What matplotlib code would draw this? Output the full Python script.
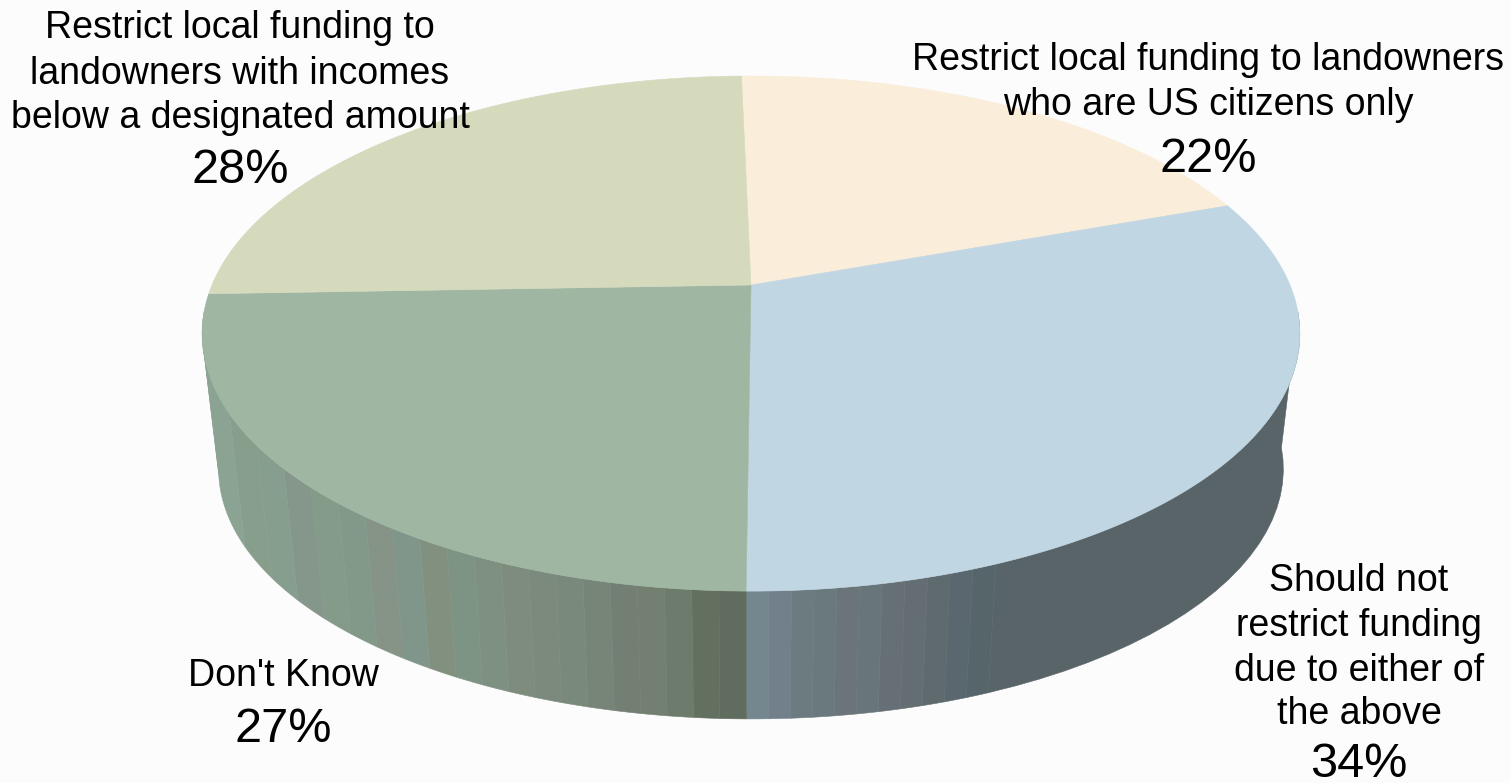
import numpy as np
import matplotlib
matplotlib.use("Agg")
import matplotlib.pyplot as plt
from matplotlib.patches import Polygon

# ---- data ----
categories = [
    ["Restrict local funding to landowners", "who are US citizens only"],
    ["Should not", "restrict funding", "due to either of", "the above"],
    ["Don't Know"],
    ["Restrict local funding to", "landowners with incomes", "below a designated amount"],
]
values = [22, 34, 27, 28]
pct_labels = ["22%", "34%", "27%", "28%"]

# ---- styles ----
top_colors = ["#faeeda", "#c1d6e3", "#9fb6a3", "#d5dabd"]
blue_side_dark = "#596469"
blue_bands = ["#566569", "#5a676e", "#5f6a6f", "#636d72", "#666f75", "#68767b",
              "#6b7478", "#6a797d", "#6c7b80", "#72808c", "#74868e"]
green_bands = ["#606c5e", "#64705f", "#6d7b6c", "#727f71", "#747f74", "#778579",
               "#798a7a", "#7b8a7d", "#7d8c7d", "#7e9081", "#7d9484", "#82917f",
               "#80968a", "#859486", "#82998a", "#849b89", "#85968a", "#869e8e",
               "#889e8d", "#8aa392"]
text_x = [[1208, 1208, 1208], [1359, 1359, 1359, 1359, 1359], [283, 283], [240, 240, 240, 240]]
text_y = [[70, 115, 172], [591, 636, 681, 724, 777], [686, 742], [38, 84, 128, 183]]

X0, Y0 = 751.0, 285.0
A, B, K = 539.0, 248.4, 0.1885
START = -1.2
LOW_S, LOW_DY = 0.97, 137.0


def project(t_deg, lower=False):
    t = np.radians(np.asarray(t_deg, dtype=float))
    X, Y = np.sin(t), np.cos(t)
    w = 1 + K * Y
    dx, dy = A * X / w, -B * Y / w
    if lower:
        return X0 + LOW_S * dx, Y0 + LOW_DY + LOW_S * dy
    return X0 + dx, Y0 + dy


def facet(ax, t0, t1, color, z=1):
    t = np.linspace(t0, t1, 24)
    xu, yu = project(t)
    xl, yl = project(t, lower=True)
    pts = np.r_[np.c_[xu, yu], np.c_[xl, yl][::-1]]
    ax.add_patch(Polygon(pts, closed=True, facecolor=color, edgecolor=color, lw=0.4, zorder=z))


def even_x_edges(t0, t1, n):
    """Facet edges evenly spaced along x of the upper rim."""
    grid = np.linspace(t0, t1, 800)
    x = project(grid)[0]
    targets = np.linspace(x[0], x[-1], n + 1)
    order = np.argsort(x)
    return np.interp(targets, x[order], grid[order])


plt.rcParams["font.family"] = ["Liberation Sans", "DejaVu Sans"]
fig = plt.figure(figsize=(15.11, 7.83), dpi=100, facecolor="#fcfcfc")
ax = fig.add_axes([0, 0, 1, 1])
ax.set_xlim(0, 1511)
ax.set_ylim(783, 0)
ax.axis("off")

edges = START + np.r_[0, np.cumsum(values)] / sum(values) * 360.0

# side wall: blue slice
blue_start = 158.0
facet(ax, 96, blue_start, blue_side_dark)
be = even_x_edges(blue_start, edges[2], len(blue_bands))
for i, c in enumerate(blue_bands):
    facet(ax, be[i], be[i + 1], c)
# side wall: green slice
ge = even_x_edges(edges[2], 258, len(green_bands))
for i, c in enumerate(green_bands):
    facet(ax, ge[i], ge[i + 1], c)
facet(ax, 258, 264, green_bands[-1])

# top surface
for i, c in enumerate(top_colors):
    t = np.linspace(edges[i], edges[i + 1], 200)
    x, y = project(t)
    pts = np.r_[[[X0, Y0]], np.c_[x, y]]
    ax.add_patch(Polygon(pts, closed=True, facecolor=c, edgecolor=c, lw=0.4, zorder=3))

# labels
for i, lines in enumerate(categories):
    for j, s in enumerate(lines + [pct_labels[i]]):
        is_pct = j == len(lines)
        ax.text(text_x[i][j], text_y[i][j], s, ha="center", va="baseline",
                fontsize=35 if is_pct else 27, color="black", zorder=5)

fig.savefig("out.png", dpi=100, facecolor=fig.get_facecolor())
